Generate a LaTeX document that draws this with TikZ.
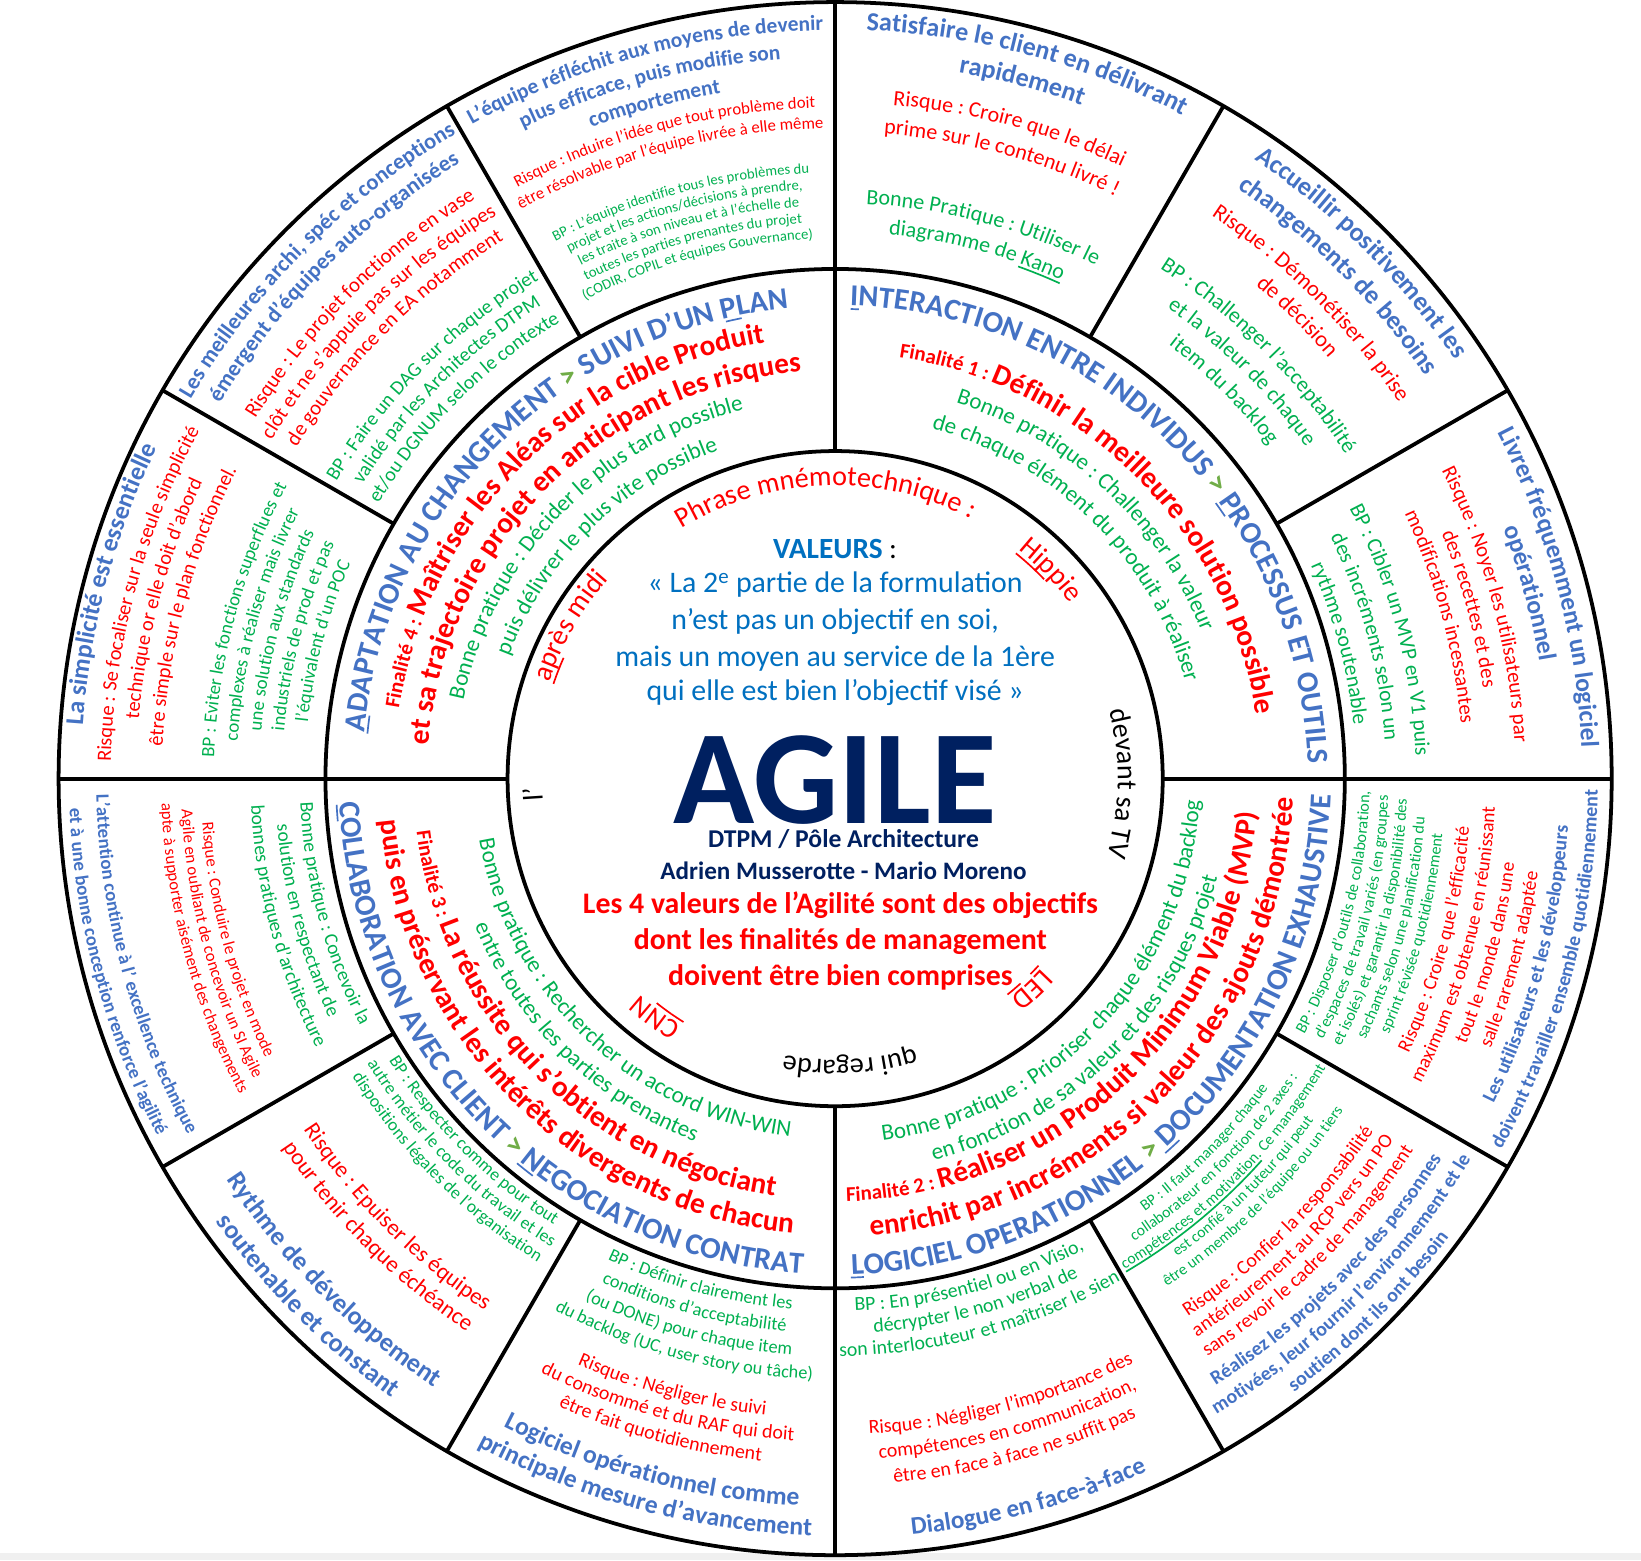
\documentclass[tikz,border=0pt]{standalone}
\usepackage{fontspec}
\setmainfont{Carlito}
\usetikzlibrary{decorations.text}

\definecolor{titleblue}{HTML}{4472C4}
\definecolor{riskred}{HTML}{FF0000}
\definecolor{bpgreen}{HTML}{00B050}
\definecolor{quoteblue}{HTML}{0070C0}
\definecolor{agilenavy}{HTML}{002060}
\definecolor{arrowgreen}{HTML}{70AD47}

\newcommand{\fsz}[1]{\fontsize{#1}{#1}\selectfont}
% formats of the outer ring
\newcommand{\ttl}[1]{\color{titleblue}\bfseries\fsz{#1}}
\newcommand{\rsk}[1]{\color{riskred}\fsz{#1}}
\newcommand{\bpr}[1]{\color{bpgreen}\fsz{#1}}
% formats of the middle ring
\newcommand{\mblue}{\color{titleblue}\bfseries\fsz{29}}
\newcommand{\mgt}{\color{arrowgreen}\bfseries\fsz{29}}
\newcommand{\mredS}{\color{riskred}\bfseries\fsz{20}}
\newcommand{\mredL}{\color{riskred}\bfseries\fsz{28}}
\newcommand{\mgreen}{\color{bpgreen}\fsz{22}}
% formats of the inner sentence
\newcommand{\mnred}{\color{riskred}\fsz{27}}
\newcommand{\mnblk}{\color{black}\fsz{27}}

\tikzset{
  ring/.style={line width=3.6pt},
  uline/.style={line width=1.6pt},
}

% lines on arcs, letters pointing outwards (upper half), first line outermost
\newcommand{\uparc}[5]{%
  \foreach \txtline [count=\lnum from 0] in {#5}{%
    \pgfmathsetmacro\lrad{#2-\lnum*#3}%
    \path[decorate,decoration={text along path,text align=center,
        text/.expanded={|\unexpanded{#4}|\txtline}}]
      (#1+45:\lrad) arc[start angle=#1+45,end angle=#1-45,radius=\lrad];}}
% lines on arcs, letters pointing inwards (lower half), first line innermost
\newcommand{\dnarc}[5]{%
  \foreach \txtline [count=\lnum from 0] in {#5}{%
    \pgfmathsetmacro\lrad{#2+\lnum*#3}%
    \path[decorate,decoration={text along path,text align=center,
        text/.expanded={|\unexpanded{#4}|\txtline}}]
      (#1-45:\lrad) arc[start angle=#1-45,end angle=#1+45,radius=\lrad];}}
% one line with its own formats
\newcommand{\uptxt}[3]{%
  \path[decorate,decoration={text along path,text align=center,text={#3}}]
    (#1+60:#2) arc[start angle=#1+60,end angle=#1-60,radius=#2];}
\newcommand{\dntxt}[3]{%
  \path[decorate,decoration={text along path,text align=center,text={#3}}]
    (#1-60:#2) arc[start angle=#1-60,end angle=#1+60,radius=#2];}
% underline drawn as an arc: from angle, to angle, radius
\newcommand{\arcline}[3]{(#1:#3) arc[start angle=#1,end angle=#2,radius=#3]}

\begin{document}
\begin{tikzpicture}[x=1pt,y=1pt]
  \useasboundingbox (-798,-747) rectangle (770,744);
  \fill[white] (-798,-747) rectangle (770,744);
  \fill[black!6] (-798,-747) rectangle (770,-740);

  % Circles and spokes
  \draw[ring] (0,0) circle[radius=742];
  \draw[ring] (0,0) circle[radius=487];
  \draw[ring] (0,0) circle[radius=313];
  \foreach \a in {0,30,...,330}
    \draw[ring] (\a:487) -- (\a:742);
  \foreach \a in {0,90,180,270}
    \draw[ring] (\a:313) -- (\a:487);

  % Outer ring, upper half
  \uparc{165}{720.6}{0}{\ttl{24.5}}{{La simplicité est essentielle}}
  \uparc{165}{692.2}{24.5}{\rsk{19.5}}{%
    {Risque : Se focaliser sur la seule simplicité},%
    {technique or elle doit d'abord},%
    {être simple sur le plan fonctionnel.}}
  \uparc{165}{593.6}{21.75}{\bpr{18}}{%
    {BP : Eviter les fonctions superflues et},%
    {complexes à réaliser mais livrer},%
    {une solution aux standards},%
    {industriels de prod et pas},%
    {l’équivalent d’un POC}}

  \uparc{135}{714.5}{26}{\ttl{21.5}}{%
    {Les meilleures archi, spéc et conceptions},%
    {émergent d’équipes auto-organisées}}
  \uparc{135}{652}{24}{\rsk{20}}{%
    {Risque : Le projet fonctionne en vase},%
    {clôt et ne s'appuie pas sur les équipes},%
    {de gouvernance en EA notamment}}
  \uparc{135}{554.3}{22.5}{\bpr{19}}{%
    {BP : Faire un DAG sur chaque projet},%
    {validé par les Architectes DTPM},%
    {et/ou DGNUM selon le contexte}}

  \uparc{105}{714.9}{25.5}{\ttl{20.5}}{%
    {L’équipe réfléchit aux moyens de devenir},%
    {plus efficace, puis modifie son},%
    {comportement}}
  \uparc{105}{641.2}{20}{\rsk{16}}{%
    {Risque : Induire l'idée que tout problème doit},%
    {être résolvable par l'équipe livrée à elle même}}
  \uparc{105}{578.8}{15.75}{\bpr{14}}{%
    {BP : L’équipe identifie tous les problèmes du},%
    {projet et les actions/décisions à prendre,},%
    {les traite à son niveau et à l’échelle de},%
    {toutes les parties prenantes du projet},%
    {(CODIR, COPIL et équipes Gouvernance)}}

  \uparc{75}{715.5}{30.5}{\ttl{25}}{%
    {Satisfaire le client en délivrant},%
    {rapidement}}
  \uparc{75}{645.7}{28}{\rsk{21}}{%
    {Risque : Croire que le délai},%
    {prime sur le contenu livré !}}
  \uparc{75}{549.7}{27}{\bpr{21}}{%
    {Bonne Pratique : Utiliser le},%
    {diagramme de Kano}}
  \draw[uline,bpgreen] \arcline{70.34}{65.62}{519.7};

  \uparc{45}{714.5}{32}{\ttl{25}}{%
    {Accueillir positivement les},%
    {changements de besoins}}
  \uparc{45}{647.2}{27.6}{\rsk{21.5}}{%
    {Risque : Démonétiser la prise},%
    {de décision}}
  \uparc{45}{577.7}{27.5}{\bpr{21}}{%
    {BP : Challenger l'acceptabilité},%
    {et la valeur de chaque},%
    {item du backlog}}

  \uparc{15}{713.6}{31.5}{\ttl{24.5}}{%
    {Livrer fréquemment un logiciel},%
    {opérationnel}}
  \uparc{15}{650}{25}{\rsk{20}}{%
    {Risque : Noyer les utilisateurs par},%
    {des recettes et des},%
    {modifications incessantes}}
  \uparc{15}{554.9}{28.5}{\bpr{20.5}}{%
    {BP : Cibler un MVP en V1 puis},%
    {des incréments selon un},%
    {rythme soutenable}}

  % Outer ring, lower half
  \dnarc{-15}{701.7}{27}{\ttl{19}}{%
    {Les utilisateurs et les développeurs},%
    {doivent travailler ensemble quotidiennement}}
  \dnarc{-15}{607.5}{23.3}{\rsk{18.5}}{%
    {Risque : Croire que l'efficacité},%
    {maximum est obtenue en réunissant},%
    {tout le monde dans une},%
    {salle rarement adaptée}}
  \dnarc{-15}{510.6}{18}{\bpr{15.5}}{%
    {BP : Disposer d’outils de collaboration,},%
    {d’espaces de travail variés (en groupes},%
    {et isolés) et garantir la disponibilité des},%
    {sachants selon une planification du},%
    {sprint révisée quotidiennement}}

  \dnarc{-45}{684}{24}{\ttl{19}}{%
    {Réalisez les projets avec des personnes},%
    {motivées, leur fournir l’environnement et le},%
    {soutien dont ils ont besoin}}
  \dnarc{-45}{614.7}{21}{\rsk{19}}{%
    {Risque : Confier la responsabilité},%
    {antérieurement au RCP vers un PO},%
    {sans revoir le cadre de management}}
  \dnarc{-45}{508.5}{17.75}{\bpr{15}}{%
    {BP : Il faut manager chaque},%
    {collaborateur en fonction de 2 axes :},%
    {compétences et motivation. Ce management},%
    {est confié à un tuteur qui peut},%
    {être un membre de l’équipe ou un tiers}}
  \draw[uline,bpgreen] \arcline{-59.46}{-41.82}{547};

  \dnarc{-75}{726}{0}{\ttl{24}}{{Dialogue en face-à-face}}
  \dnarc{-75}{626.7}{24}{\rsk{19}}{%
    {Risque : Négliger l'importance des},%
    {compétences en communication,},%
    {être en face à face ne suffit pas}}
  \dnarc{-75}{508.7}{21.5}{\bpr{19}}{%
    {BP : En présentiel ou en Visio,},%
    {décrypter le non verbal de},%
    {son interlocuteur et maîtriser le sien}}

  \dnarc{-105}{695.4}{28}{\ttl{24.5}}{%
    {Logiciel opérationnel comme},%
    {principale mesure d’avancement}}
  \dnarc{-105}{611.7}{22}{\rsk{19}}{%
    {Risque : Négliger le suivi},%
    {du consommé et du RAF qui doit},%
    {être fait quotidiennement}}
  \dnarc{-105}{508.25}{22}{\bpr{17.5}}{%
    {BP : Définir clairement les},%
    {conditions d'acceptabilité},%
    {(ou DONE) pour chaque item},%
    {du backlog (UC, user story ou tâche)}}

  \dnarc{-135}{696.5}{31}{\ttl{25}}{%
    {Rythme de développement},%
    {soutenable et constant}}
  \dnarc{-135}{608.6}{26}{\rsk{22}}{%
    {Risque : Epuiser les équipes},%
    {pour tenir chaque échéance}}
  \dnarc{-135}{504.1}{19}{\bpr{17}}{%
    {BP : Respecter comme pour tout},%
    {autre métier le code du travail et les},%
    {dispositions légales de l’organisation}}

  \dnarc{-165}{706}{26}{\ttl{18}}{%
    {L’attention continue à l’ excellence technique},%
    {et à une bonne conception renforce l’agilité}}
  \dnarc{-165}{606}{19}{\rsk{16}}{%
    {Risque : Conduire le projet en mode},%
    {Agile en oubliant de concevoir un SI Agile},%
    {apte à supporter aisément des changements}}
  \dnarc{-165}{511.5}{23.5}{\bpr{18.5}}{%
    {Bonne pratique : Concevoir la},%
    {solution en respectant de},%
    {bonnes pratiques d'architecture}}

  % Middle ring
  \uptxt{135}{452}{|\mblue|ADAPTATION AU CHANGEMENT |\mgt|> |\mblue|SUIVI D’UN PLAN}
  \uptxt{135}{422}{|\mredS|Finalité 4 : |\mredL|Maîtriser les Aléas sur la cible Produit}
  \uptxt{135}{390}{|\mredL|et sa trajectoire projet en anticipant les risques}
  \uptxt{136}{363}{|\mgreen|Bonne pratique : Décider le plus tard possible}
  \uptxt{134.5}{333}{|\mgreen|puis délivrer le plus vite possible}

  \uptxt{45}{452}{|\mblue|INTERACTION ENTRE INDIVIDUS |\mgt|> |\mblue|PROCESSUS ET OUTILS}
  \uptxt{45}{407}{|\mredS|Finalité 1 : |\mredL|Définir la meilleure solution possible}
  \uptxt{47}{377}{|\mgreen|Bonne pratique : Challenger la valeur}
  \uptxt{45}{347}{|\mgreen|de chaque élément du produit à réaliser}

  \dntxt{-45}{474}{|\mblue|LOGICIEL OPERATIONNEL |\mgt|> |\mblue|DOCUMENTATION EXHAUSTIVE}
  \dntxt{-46.5}{404}{|\mredS|Finalité 2 : |\mredL|Réaliser un Produit Minimum Viable (MVP)}
  \dntxt{-44}{438}{|\mredL|enrichit par incréments si valeur des ajouts démontrée}
  \dntxt{-43}{349}{|\mgreen|Bonne pratique : Prioriser chaque élément du backlog}
  \dntxt{-45}{377}{|\mgreen|en fonction de sa valeur et des risques projet}

  \dntxt{-135.5}{474}{|\mblue|COLLABORATION AVEC CLIENT |\mgt|> |\mblue|NEGOCIATION CONTRAT}
  \dntxt{-135.5}{403}{|\mredS|Finalité 3 : |\mredL|La réussite qui s’obtient en négociant}
  \dntxt{-135}{436}{|\mredL|puis en préservant les intérêts divergents de chacun}
  \dntxt{-133.7}{345}{|\mgreen|Bonne pratique : Rechercher un accord WIN-WIN}
  \dntxt{-134.5}{372}{|\mgreen|entre toutes les parties prenantes}

  % First letters of the values
  \draw[uline,titleblue] \arcline{174.5}{172.3}{449};
  \draw[uline,titleblue] \arcline{103.43}{101.47}{449};
  \draw[uline,titleblue] \arcline{88.1}{87.1}{449};
  \draw[uline,titleblue] \arcline{35.9}{33.94}{449};
  \draw[uline,titleblue] \arcline{-88.2}{-86.7}{477};
  \draw[uline,titleblue] \arcline{-48.6}{-46.4}{477};
  \draw[uline,titleblue] \arcline{-177.0}{-175.1}{477};
  \draw[uline,titleblue] \arcline{-129.59}{-127.28}{477};

  % Sentence round the centre
  \uptxt{92}{280}{|\mnred|Phrase mnémotechnique :}
  \uptxt{44}{280}{|\mnred|Hippie}
  \uptxt{-1}{270}{|\mnblk|devant sa TV}
  \uptxt{-47}{268}{|\mnred|LED}
  \uptxt{-87}{269}{|\mnblk|qui regarde}
  \uptxt{-127}{278}{|\mnred|CNN}
  \uptxt{183}{280}{|\mnblk|l’}
  \uptxt{150}{288}{|\mnred|après midi}
  \draw[uline,riskred] \arcline{51.26}{43.65}{276};
  \draw[uline,riskred] \arcline{-42.61}{-45.03}{264};
  \draw[uline,riskred] \arcline{-47.85}{-51.4}{264};
  \draw[uline,riskred] \arcline{-121.92}{-124.89}{274};
  \draw[uline,riskred] \arcline{-124.89}{-128.48}{274};
  \draw[uline,riskred] \arcline{161.41}{156.02}{284};

  % Centre
  \node[text=quoteblue,font=\bfseries\fsz{28},anchor=base] (val) at (0,210)
    {VALEURS \textcolor{black}{\mdseries :}};
  \node[text=quoteblue,font=\fsz{28.5},anchor=base] (q1) at (0,177.5)
    {« La 2\textsuperscript{e} partie de la formulation};
  \node[text=quoteblue,font=\fsz{28.5},anchor=base] (q2) at (0,142.5)
    {n’est pas un objectif en soi,};
  \node[text=quoteblue,font=\fsz{28.5},anchor=base] (q3) at (0,107.5)
    {mais un moyen au service de la 1ère};
  \node[text=quoteblue,font=\fsz{28.5},anchor=base] (q4) at (0,74.5)
    {qui elle est bien l’objectif visé »};
  \node[text=agilenavy,font=\bfseries\fsz{128},anchor=base] (agile) at (0,-43) {AGILE};
  \node[text=agilenavy,font=\bfseries\fsz{24.5},anchor=base] (dtpm) at (8,-66)
    {DTPM / Pôle Architecture};
  \node[text=agilenavy,font=\bfseries\fsz{24},anchor=base] (authors) at (8,-96)
    {Adrien Musserotte - Mario Moreno};
  \node[text=riskred,font=\bfseries\fsz{28.5},anchor=base] (r1) at (5,-129)
    {Les 4 valeurs de l’Agilité sont des objectifs};
  \node[text=riskred,font=\bfseries\fsz{28.5},anchor=base] (r2) at (5,-163)
    {dont les finalités de management};
  \node[text=riskred,font=\bfseries\fsz{28.5},anchor=base] (r3) at (5,-198)
    {doivent être bien comprises};
\end{tikzpicture}
\end{document}
